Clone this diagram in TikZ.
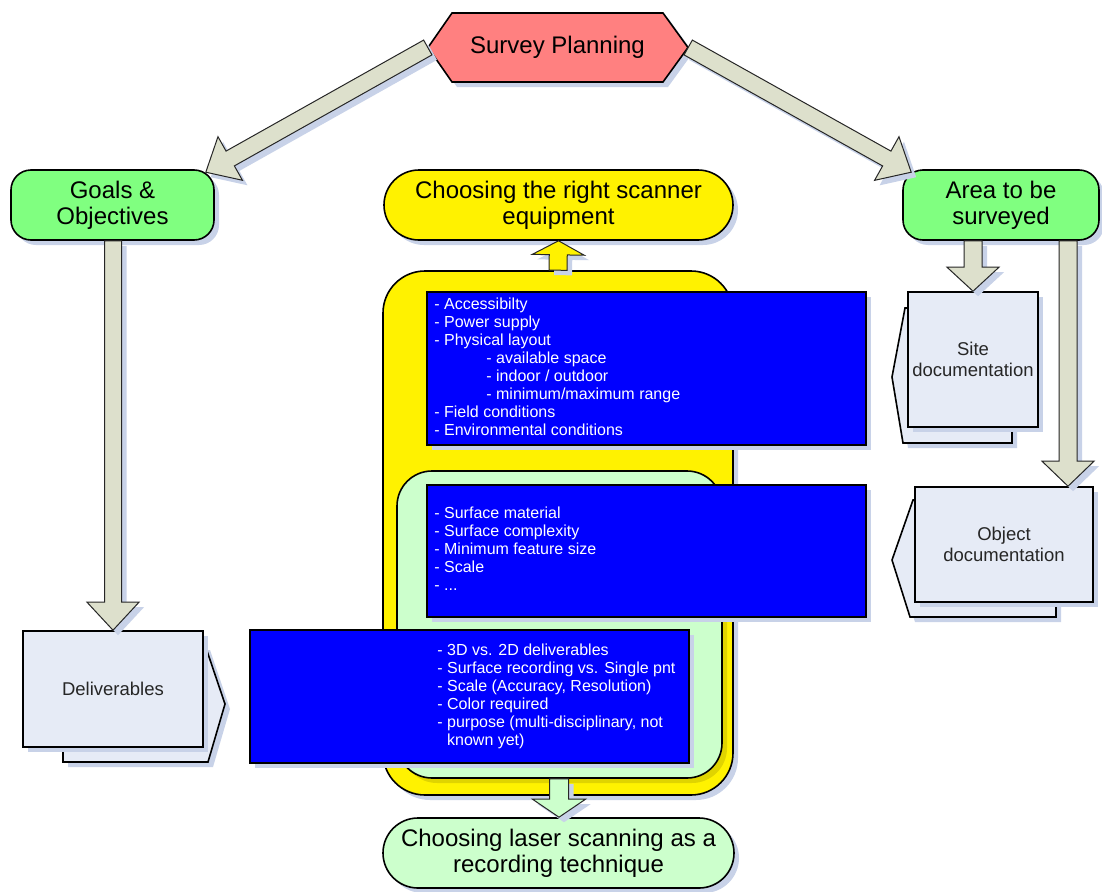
\documentclass[tikz,border=0pt]{standalone}
\usepackage{fontspec}
\setmainfont{Liberation Sans}
\usetikzlibrary{calc,shadows}
\definecolor{shad}{RGB}{200,210,232}
\definecolor{arrfill}{RGB}{221,224,204}
\definecolor{hexred}{RGB}{255,128,128}
\definecolor{nodegreen}{RGB}{128,255,128}
\definecolor{lightgreen}{RGB}{204,255,204}
\definecolor{docfill}{RGB}{230,235,246}
\definecolor{bluebox}{RGB}{0,0,255}
\tikzset{
 sh/.style={drop shadow={shadow xshift=5pt,shadow yshift=-5pt,fill=shad,opacity=1}},
 shy/.style={drop shadow={shadow xshift=5pt,shadow yshift=-5pt,fill=black,opacity=0.12}},
 outl/.style={draw=black,line width=1.6pt},
 bigtxt/.style={font=\fontsize{24}{26}\selectfont, align=center},
 doctxt/.style={font=\fontsize{18.5}{21}\selectfont, align=center, text=black!85},
 listtxt/.style={font=\fontsize{16}{18}\selectfont, align=left, text=white, inner sep=0pt, anchor=north west},
 rbox/.style={outl, sh, rounded corners=20pt, inner sep=0pt},
 pill/.style={outl, sh, rounded corners=35pt, inner sep=0pt, minimum height=70pt},
 docbox/.style={outl, sh, fill=docfill, inner sep=0pt},
 docback/.style={outl, sh, fill=docfill},
 bluebx/.style={outl, sh, fill=bluebox, inner sep=0pt},
 barrow/.style={draw=black!85, line width=1pt, fill=arrfill, sh},
}
\newcommand\blockarr[6]{%
 \coordinate (bah) at ($(#3)!#6!(#2)$);
 \draw[#1] ($(#2)!#4!90:(#3)$) -- ($(bah)!#4!90:(#3)$) -- ($(bah)!#5!90:(#3)$) -- (#3)
   -- ($(bah)!#5!-90:(#3)$) -- ($(bah)!#4!-90:(#3)$) -- ($(#2)!#4!-90:(#3)$) -- cycle;}
\begin{document}
\begin{tikzpicture}[x=1pt,y=-1pt]
\useasboundingbox[fill=white] (0,0) rectangle (1102,891);

% Survey planning hexagon
\path[outl,sh,fill=hexred] (428,47.5) -- (452,13) -- (663,13) -- (688,47.5) -- (663,82) -- (452,82) -- cycle;
\node[bigtxt, minimum width=211pt, minimum height=69pt, inner sep=0pt] (sp) at (557.5,47.5) {Survey Planning};

% top row
\node[rbox, fill=nodegreen, minimum width=203pt, minimum height=70pt, bigtxt] (goals) at (112.5,205) {Goals \&\\Objectives};
\node[pill, fill=yellow, minimum width=349pt, bigtxt] (scanner) at (558.5,205) {Choosing the right scanner\\equipment};
\node[rbox, fill=nodegreen, minimum width=196pt, minimum height=70pt, bigtxt] (area) at (1001,205) {Area to be\\surveyed};

% diagonal arrows
\coordinate (a1s) at ($(sp.west)+(-24,0)$);
\coordinate (a1e) at ($(goals.north east)+(-9,3)$);
\blockarr{barrow}{a1s}{a1e}{8.5pt}{25pt}{28pt}
\coordinate (a2s) at ($(sp.east)+(25,0)$);
\coordinate (a2e) at ($(area.north west)+(9,3)$);
\blockarr{barrow}{a2s}{a2e}{8.5pt}{25pt}{28pt}

% yellow container
\node[outl, sh, fill=yellow, rounded corners=42pt, minimum width=350pt, minimum height=524pt, inner sep=0pt] (yel) at (558,533) {};
\blockarr{barrow,fill=yellow}{yel.north}{scanner.south}{9pt}{26pt}{14pt}

% inner green container
\node[outl, shy, fill=lightgreen, rounded corners=35pt, minimum width=325pt, minimum height=307pt, inner sep=0pt] (inner) at (559.5,624.5) {};
\node[pill, fill=lightgreen, minimum width=351pt, bigtxt] (laser) at (558.5,853) {Choosing laser scanning as a\\recording technique};
\coordinate (a7s) at ($(inner.south)+(-0.5,0)$);
\coordinate (a7e) at ($(laser.north)+(0.5,0)$);
\blockarr{barrow,fill=lightgreen}{a7s}{a7e}{9.5pt}{26.5pt}{18pt}

% blue boxes
\node[bluebx, minimum width=439pt, minimum height=153pt] (b1) at (646.5,368.5) {};
\node[listtxt] (t1) at ($(b1.north west)+(8,6.5)$) {- Accessibilty\\- Power supply\\- Physical layout\\\hspace*{52pt}- available space\\\hspace*{52pt}- indoor / outdoor\\\hspace*{52pt}- minimum/maximum range\\- Field conditions\\- Environmental conditions};
\node[bluebx, minimum width=439pt, minimum height=132pt] (b2) at (646.5,551) {};
\node[listtxt] (t2) at ($(b2.north west)+(8,22.4)$) {- Surface material\\- Surface complexity\\- Minimum feature size\\- Scale\\- ...};
\node[bluebx, minimum width=439pt, minimum height=133pt] (b3) at (469.5,696.5) {};
\node[listtxt] (t3) at ($(b3.north west)+(188,14.5)$) {- 3D vs. 2D deliverables\\- Surface recording vs. Single pnt\\- Scale (Accuracy, Resolution)\\- Color required\\- purpose (multi-disciplinary, not\\\phantom{- }known yet)};

% document boxes
\path[docback] (63,645) -- (205,645) -- (225,704) -- (208,762) -- (63,762) -- cycle;
\node[docbox, minimum width=180pt, minimum height=116pt, doctxt] (del) at (113,689) {Deliverables};
\path[docback] (905,308) -- (1012,308) -- (1012,443) -- (903,443) -- (892,377) -- cycle;
\node[docbox, minimum width=130pt, minimum height=135pt, doctxt] (site) at (973,359.5) {Site\\documentation};
\path[docback] (913,500) -- (1056,500) -- (1056,617) -- (910,617) -- (892,560) -- cycle;
\node[docbox, minimum width=178pt, minimum height=115pt, doctxt] (obj) at (1004,544.5) {Object\\documentation};

% vertical arrows
\coordinate (a3s) at ($(goals.south)+(0.5,0)$);
\blockarr{barrow}{a3s}{del.north}{8.5pt}{26pt}{28pt}
\coordinate (a4s) at ($(area.south)+(-28,0)$);
\blockarr{barrow}{a4s}{site.north}{9pt}{26pt}{24pt}
\coordinate (a5s) at ($(area.south)+(67,0)$);
\coordinate (a5e) at ($(obj.north)+(64,0)$);
\blockarr{barrow}{a5s}{a5e}{9pt}{26pt}{25pt}
\end{tikzpicture}
\end{document}
